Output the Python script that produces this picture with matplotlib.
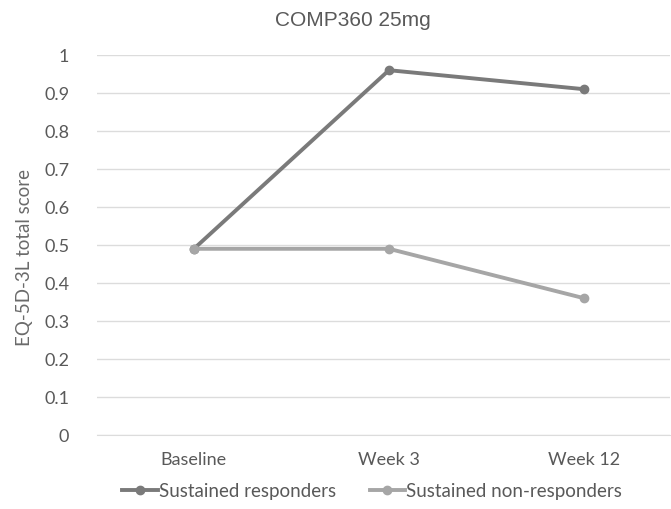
import matplotlib
matplotlib.use("Agg")
import matplotlib.pyplot as plt

# データ
categories = ["Baseline", "Week 3", "Week 12"]
responders = [0.49, 0.96, 0.91]
non_responders = [0.49, 0.49, 0.36]
y_ticks = [0, 0.1, 0.2, 0.3, 0.4, 0.5, 0.6, 0.7, 0.8, 0.9, 1]

text_color = "#595959"
plt.rcParams["font.family"] = ["Lato", "DejaVu Sans"]

fig = plt.figure(figsize=(6.71, 5.09), dpi=100)
# 描画エリア (x: 97-670px, y: 55-435px)
ax = fig.add_axes([97 / 671, 1 - 435 / 509, 573 / 671, 380 / 509])

x = range(len(categories))
ax.plot(x, responders, color="#7a7a7a", lw=2.8, marker="o", ms=6,
        label="Sustained responders", zorder=3)
ax.plot(x, non_responders, color="#a6a6a6", lw=2.8, marker="o", ms=6,
        label="Sustained non-responders", zorder=3)

ax.set_xlim(-0.497, 2.441)
ax.set_ylim(0, 1)
ax.set_yticks(y_ticks)
ax.set_yticklabels([f"{v:g}" for v in y_ticks])
ax.set_xticks(list(x))
ax.set_xticklabels(categories)
ax.grid(axis="y", color="#dcdcdc", lw=1)
ax.set_axisbelow(True)
for s in ax.spines.values():
    s.set_visible(False)
ax.spines["bottom"].set_visible(True)
ax.spines["bottom"].set_color("#dcdcdc")
ax.tick_params(length=0, colors=text_color, labelsize=13)
ax.tick_params(axis="x", pad=12)
ax.tick_params(axis="y", pad=20)

ax.set_ylabel("EQ-5D-3L total score", color="#6a6a6a", fontsize=13.5)
ax.yaxis.set_label_coords(-0.112, 0.466)
fig.text(353 / 671, 1 - 21 / 509, "COMP360 25mg", ha="center", va="center",
         fontsize=15, color=text_color, family=["Liberation Sans", "DejaVu Sans"])

ax.legend(loc="center", bbox_to_anchor=(372 / 671, 1 - 491 / 509), bbox_transform=fig.transFigure,
          ncol=2, frameon=False, fontsize=13.5, labelcolor=text_color, handlelength=1.9,
          handletextpad=0.05, columnspacing=1.8)

fig.savefig("out.png", dpi=100)
